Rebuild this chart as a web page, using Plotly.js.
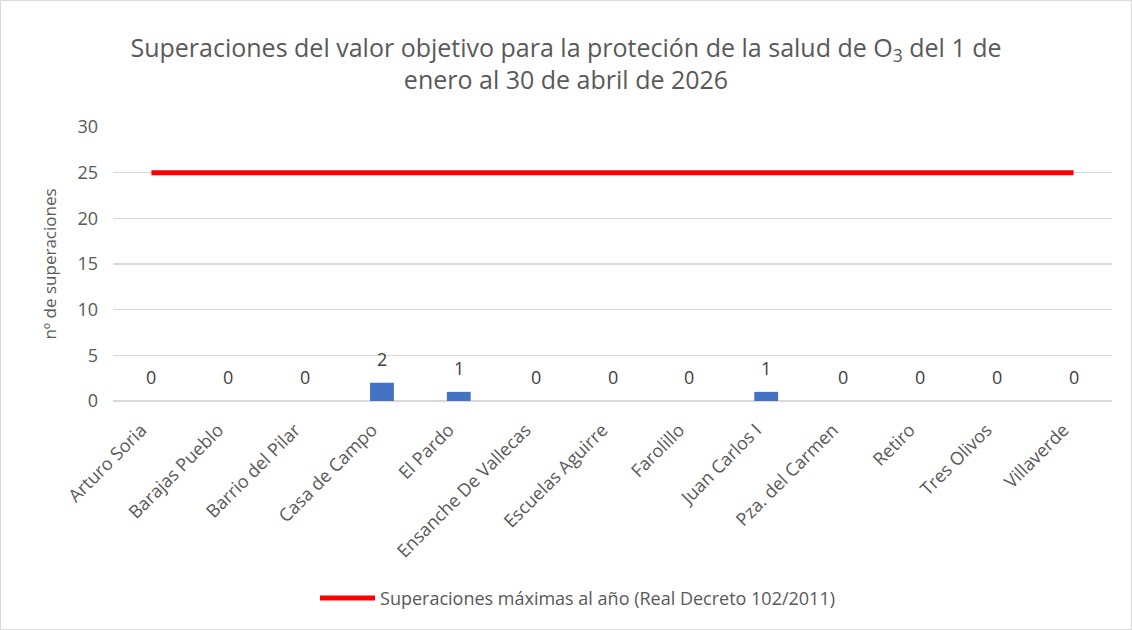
<!DOCTYPE html>
<html>
<head>
<meta charset="utf-8">
<script src="https://cdn.plot.ly/plotly-3.0.1.min.js"></script>
<style>
html,body{margin:0;padding:0;background:#fff;}
#chart{width:1130px;height:628px;border:1px solid #d9d9d9;}
</style>
</head>
<body>
<div id="chart"></div>
<script>
const estaciones = ["Arturo Soria","Barajas Pueblo","Barrio del Pilar","Casa de Campo","El Pardo","Ensanche De Vallecas","Escuelas Aguirre","Farolillo","Juan Carlos I","Pza. del Carmen","Retiro","Tres Olivos","Villaverde"];
const superaciones = [0,0,0,2,1,0,0,0,1,0,0,0,0];
const maximoAnual = [25,25,25,25,25,25,25,25,25,25,25,25,25];
const yTicks = [0,5,10,15,20,25,30];

const fontMain = "'Open Sans', sans-serif";
const grey = "#595959";

const barTrace = {
  type: "bar",
  x: estaciones,
  y: superaciones,
  marker: {color: "#4472C4"},
  width: 0.31,
  showlegend: false,
  hoverinfo: "x+y"
};
const lineTrace = {
  type: "scatter",
  mode: "lines",
  x: estaciones,
  y: maximoAnual,
  name: "Superaciones máximas al año (Real Decreto 102/2011)",
  line: {color: "#FF0000", width: 5}
};

const annotations = estaciones.map((e, i) => ({
  x: e, y: superaciones[i], text: String(superaciones[i]),
  showarrow: false, yanchor: "middle", yshift: 24,
  font: {family: fontMain, size: 18, color: "#404040"}
}));

const layout = {
  width: 1130, height: 628,
  margin: {l: 112, r: 19, t: 126, b: 224},
  paper_bgcolor: "#fff", plot_bgcolor: "#fff",
  title: {
    text: "Superaciones del valor objetivo para la proteción de la salud de O<sub>3</sub> del 1 de<br>enero al 30 de abril de 2026",
    font: {family: fontMain, size: 25, color: grey},
    x: 0.5, xanchor: "center", y: 0.911, yanchor: "middle"
  },
  xaxis: {
    type: "category",
    automargin: false,
    tickangle: -45,
    tickfont: {family: fontMain, size: 18, color: grey},
    ticklabelstandoff: 14,
    ticklabelshift: -10,
    showgrid: false, zeroline: false,
    showline: false, ticks: ""
  },
  yaxis: {
    range: [0, 30],
    automargin: false,
    tickvals: yTicks,
    ticktext: yTicks.map(String),
    tickfont: {family: fontMain, size: 18, color: grey},
    ticklabelstandoff: 14,
    gridcolor: "#d9d9d9", gridwidth: 1.5,
    zeroline: true, zerolinecolor: "#d9d9d9", zerolinewidth: 1.5,
    showline: false, ticks: "", ticklen: 0,
    title: {text: "nº de superaciones", font: {family: fontMain, size: 17, color: grey}, standoff: 16}
  },
  legend: {
    orientation: "h", x: 0.465, xanchor: "center", y: -0.72, yanchor: "middle",
    font: {family: fontMain, size: 18, color: grey},
    itemwidth: 55
  },
  annotations: annotations,
  showlegend: true
};

Plotly.newPlot("chart", [barTrace, lineTrace], layout, {displayModeBar: false, staticPlot: true});
</script>
</body>
</html>
